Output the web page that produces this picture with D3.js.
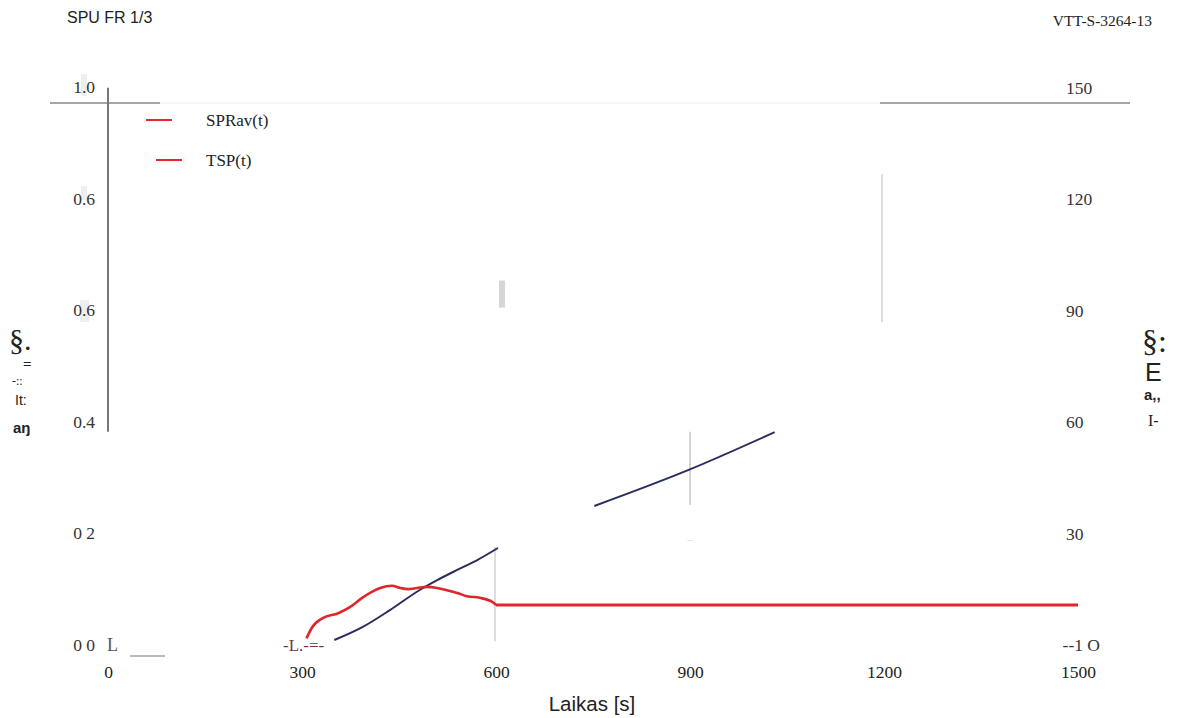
<!DOCTYPE html>
<html>
<head>
<meta charset="utf-8">
<script src="https://cdn.jsdelivr.net/npm/d3@7"></script>
<style>
  html, body { margin: 0; padding: 0; background: #fff; }
  svg text { font-family: "Liberation Serif", "Times New Roman", serif; }
</style>
</head>
<body>
<svg id="chart" width="1180" height="718"></svg>
<script>
// Time axis ticks (s)
const xTicks = [0, 300, 600, 900, 1200, 1500];
const xTickLabels = ["0", "300", "600", "900", "1200", "1500"];

// Left axis: SPR (m2/s), right axis: TSP (m2)
const leftTicks = [1.0, 0.8, 0.6, 0.4, 0.2, 0.0];
const leftTickLabels = ["1.0", "0.6", "0.6", "0.4", "0 2", "0 0"];
const rightTicks = [150, 120, 90, 60, 30, 0];
const rightTickLabels = ["150", "120", "90", "60", "30", "--1 O"];

// SPRav(t), left axis
const sprTime = [307, 315, 332, 356, 374, 393, 408, 421, 439, 452, 464, 478, 493, 509, 524, 540, 555, 575, 595, 600, 1500];
const sprValue = [0.023, 0.042, 0.060, 0.069, 0.080, 0.097, 0.108, 0.115, 0.119, 0.115, 0.113, 0.115, 0.117, 0.115, 0.111, 0.106, 0.100, 0.097, 0.089, 0.084, 0.084];

// TSP(t), right axis (null = missing in the record)
const tspTime = [350, 394, 436, 482, 509, 540, 571, 603, 680, 752, 897, 1031];
const tspValue = [3.0, 6.6, 11.2, 16.7, 19.4, 22.2, 24.9, 28.2, null, 39.7, 49.5, 59.9];

const legendLabels = ["SPRav(t)", "TSP(t)"];

const svg = d3.select("#chart");

const x = d3.scaleLinear().domain([0, 1500]).range([108, 1078]);
const yL = d3.scaleLinear().domain([0, 1]).range([651, 103]);
const yR = d3.scaleLinear().domain([0, 150]).range([651, 103]);
// baseline positions of the axis number labels
const yLabL = d3.scaleLinear().domain([0, 1]).range([651, 93]);
const yLabR = d3.scaleLinear().domain([0, 150]).range([651, 94]);

// header texts
svg.append("text").attr("x", 67).attr("y", 23)
  .style("font-family", "'Liberation Sans', Arial, sans-serif").style("font-size", "16px").attr("fill", "#222")
  .text("SPU FR 1/3");
svg.append("text").attr("x", 1152).attr("y", 26).attr("text-anchor", "end")
  .style("font-size", "15.5px").attr("fill", "#222")
  .text("VTT-S-3264-13");

// top rule at 1.0
svg.append("line").attr("x1", 50).attr("x2", 160).attr("y1", yL(1)).attr("y2", yL(1)).attr("stroke", "#888").attr("stroke-width", 1.5);
svg.append("line").attr("x1", 160).attr("x2", 880).attr("y1", yL(1)).attr("y2", yL(1)).attr("stroke", "#f2f2f2").attr("stroke-width", 1.5);
svg.append("line").attr("x1", 880).attr("x2", 1130).attr("y1", yL(1)).attr("y2", yL(1)).attr("stroke", "#888").attr("stroke-width", 1.5);

// left axis line (upper part)
svg.append("line").attr("x1", x(0)).attr("x2", x(0)).attr("y1", yL(1.028)).attr("y2", yL(0.4)).attr("stroke", "#777").attr("stroke-width", 2);

// light vertical grid fragments
svg.append("line").attr("x1", x(600) - 1).attr("x2", x(600) - 1).attr("y1", yL(0.19)).attr("y2", yL(0.018)).attr("stroke", "#ddd").attr("stroke-width", 2);
svg.append("line").attr("x1", x(900)).attr("x2", x(900)).attr("y1", yR(60)).attr("y2", yR(40)).attr("stroke", "#d4d4d4").attr("stroke-width", 2);
svg.append("line").attr("x1", x(1200) - 2).attr("x2", x(1200) - 2).attr("y1", yL(0.87)).attr("y2", yL(0.6)).attr("stroke", "#ddd").attr("stroke-width", 2);
svg.append("rect").attr("x", x(600) + 3).attr("y", yL(0.676)).attr("width", 6).attr("height", 27).attr("fill", "#d6d6d6");
svg.append("text").attr("x", x(900)).attr("y", yL(0.2)).attr("text-anchor", "middle").style("font-size", "8px").attr("fill", "#bbb").text("...");

// shaded blocks behind two of the left labels
svg.append("rect").attr("x", 81).attr("y", 74).attr("width", 6).attr("height", 22).attr("fill", "#eee");
svg.append("rect").attr("x", 81).attr("y", 186).attr("width", 6).attr("height", 14).attr("fill", "#eee");
svg.append("rect").attr("x", 80).attr("y", 300).attr("width", 9).attr("height", 22).attr("fill", "#eee");

// left tick labels
svg.append("g").selectAll("text").data(leftTicks).join("text")
  .attr("x", 95).attr("y", d => yLabL(d)).attr("text-anchor", "end")
  .style("font-size", "17.5px").attr("fill", "#333")
  .text((d, i) => leftTickLabels[i]);

// right tick labels
svg.append("g").selectAll("text").data(rightTicks).join("text")
  .attr("x", (d, i) => i === rightTicks.length - 1 ? 1100 : 1066)
  .attr("y", d => yLabR(d))
  .attr("text-anchor", (d, i) => i === rightTicks.length - 1 ? "end" : "start")
  .style("font-size", "17.5px").attr("fill", "#333")
  .text((d, i) => rightTickLabels[i]);

// bottom-left leftovers of the axis corner
svg.append("text").attr("x", 107).attr("y", yLabL(0)).style("font-size", "18px").attr("fill", "#555").text("L");
svg.append("line").attr("x1", 130).attr("x2", 165).attr("y1", 656).attr("y2", 656).attr("stroke", "#777").attr("stroke-width", 1.2);
svg.append("text").attr("x", 283).attr("y", yLabL(0)).style("font-size", "17px").attr("fill", "#6e3a3a").text("-L.-=-");

// x axis labels
const xAxis = d3.axisBottom(x).tickValues(xTicks).tickSize(0).tickPadding(0)
  .tickFormat((d, i) => xTickLabels[i]);
const gx = svg.append("g").attr("transform", "translate(0,666)").call(xAxis);
gx.select(".domain").remove();
gx.selectAll("text").style("font-size", "17.5px").style("font-family", "'Liberation Serif', serif").attr("fill", "#222");

svg.append("text").attr("x", 592).attr("y", 711).attr("text-anchor", "middle")
  .style("font-family", "'Liberation Sans', Arial, sans-serif").style("font-size", "20.5px").attr("fill", "#222")
  .text("Laikas [s]");

// axis title fragments (left)
const leftTitle = svg.append("g").attr("fill", "#222");
leftTitle.append("text").attr("x", 9).attr("y", 350).style("font-size", "30px").text("§.");
leftTitle.append("text").attr("x", 23).attr("y", 369).style("font-size", "15px").style("font-weight", "bold").text("=");
leftTitle.append("text").attr("x", 12).attr("y", 385).style("font-size", "12px").text("-::");
leftTitle.append("text").attr("x", 15).attr("y", 405).style("font-size", "14px").style("font-family", "'Liberation Sans', sans-serif").text("It:");
leftTitle.append("text").attr("x", 13).attr("y", 433).style("font-size", "15px").style("font-weight", "bold").style("font-family", "'Liberation Sans', sans-serif").text("aŋ");

// axis title fragments (right)
const rightTitle = svg.append("g").attr("fill", "#222");
rightTitle.append("text").attr("x", 1142).attr("y", 352).style("font-size", "32px").text("§:");
rightTitle.append("text").attr("x", 1145).attr("y", 381).style("font-size", "25px").style("font-family", "'Liberation Sans', sans-serif").text("E");
rightTitle.append("text").attr("x", 1144).attr("y", 400).style("font-size", "15px").style("font-weight", "bold").style("font-family", "'Liberation Sans', sans-serif").text("a,,");
rightTitle.append("text").attr("x", 1148).attr("y", 426).style("font-size", "16px").text("I-");

// TSP curve
const tspLine = d3.line()
  .defined(d => d[1] !== null)
  .x(d => x(d[0])).y(d => yR(d[1]))
  .curve(d3.curveMonotoneX);
svg.append("path")
  .datum(tspTime.map((t, i) => [t, tspValue[i]]))
  .attr("d", tspLine).attr("fill", "none").attr("stroke", "#2b2d5c").attr("stroke-width", 2);

// SPRav curve
const sprLine = d3.line().x(d => x(d[0])).y(d => yL(d[1])).curve(d3.curveMonotoneX);
const sprPts = sprTime.map((t, i) => [t, sprValue[i]]);
svg.append("path").datum(sprPts.filter(d => d[0] <= 600))
  .attr("d", sprLine).attr("fill", "none").attr("stroke", "#e0262b").attr("stroke-width", 2.6);
svg.append("path").datum(sprPts.filter(d => d[0] >= 600))
  .attr("d", sprLine).attr("fill", "none").attr("stroke", "#e0262b").attr("stroke-width", 3);

// legend
const legend = svg.append("g");
legendLabels.forEach((lab, i) => {
  const ly = 120 + i * 40;
  const lx = 146 + i * 10;
  legend.append("line").attr("x1", lx).attr("x2", lx + 26).attr("y1", ly).attr("y2", ly)
    .attr("stroke", "#e8262b").attr("stroke-width", 2);
  legend.append("text").attr("x", 206).attr("y", ly + 6).style("font-size", "17px").attr("fill", "#222").text(lab);
});
</script>
</body>
</html>
